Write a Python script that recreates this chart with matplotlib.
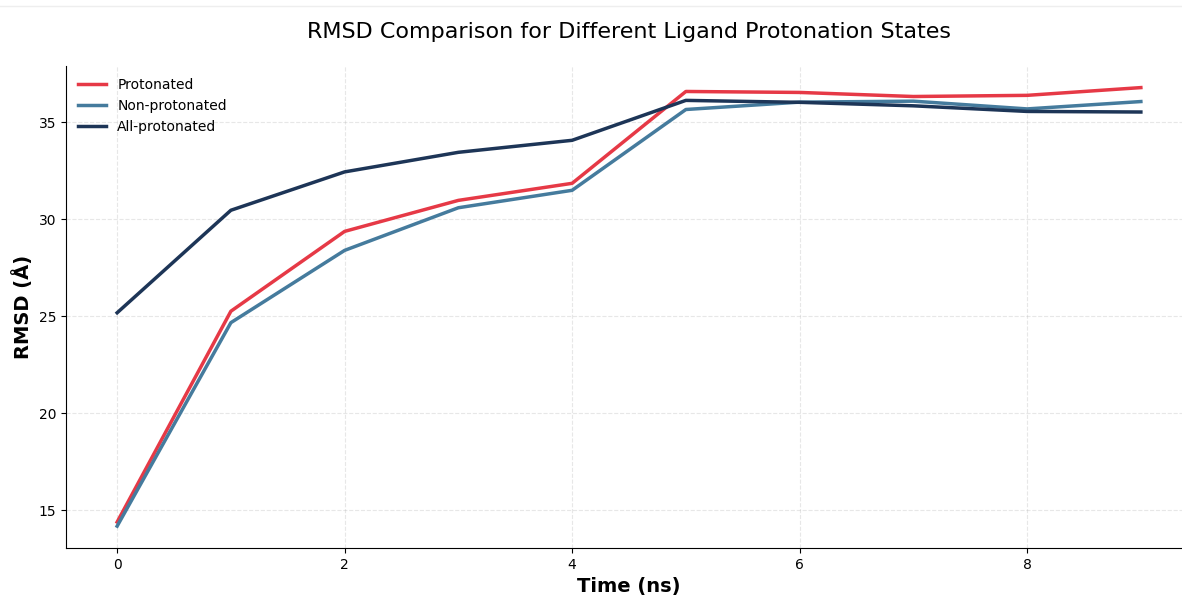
import numpy as np
import matplotlib.pyplot as plt
from matplotlib.lines import Line2D

time = [0, 1, 2, 3, 4, 5, 6, 7, 8, 9]
protonated = [14.38, 25.26, 29.38, 30.98, 31.86, 36.6, 36.55, 36.34, 36.4, 36.8]
non_protonated = [14.17, 24.67, 28.4, 30.6, 31.5, 35.67, 36.05, 36.1, 35.7, 36.08]
all_protonated = [25.18, 30.47, 32.45, 33.46, 34.08, 36.14, 36.04, 35.86, 35.57, 35.54]

fig, ax = plt.subplots(figsize=(11.82, 5.97), dpi=100)
# axes run slightly past the right edge, as in the original (cropped) image
fig.subplots_adjust(left=0.0558, right=1.0085, top=0.89, bottom=0.082)

ax.plot(time, protonated, color='#e63946', lw=2.5, label='Protonated')
ax.plot(time, non_protonated, color='#457b9d', lw=2.5, label='Non-protonated')
ax.plot(time, all_protonated, color='#1d3557', lw=2.5, label='All-protonated')

ax.set_title('RMSD Comparison for Different Ligand Protonation States', fontsize=16, pad=20)
ax.set_xlabel('Time (ns)', fontsize=14, fontweight='bold')
ax.set_ylabel('RMSD (Å)', fontsize=14, fontweight='bold')
ax.grid(True, linestyle='--', alpha=0.3)
ax.spines['top'].set_visible(False)
ax.spines['right'].set_visible(False)
ax.set_xticks([0, 2, 4, 6, 8])
ax.set_yticks([15, 20, 25, 30, 35])
ax.legend(loc='upper left', frameon=False, fontsize=10)

# faint rule near the top edge
fig.add_artist(Line2D([0, 1], [0.99, 0.99], transform=fig.transFigure, color='#eeeeee', lw=1))

fig.savefig('out.png', dpi=100)
